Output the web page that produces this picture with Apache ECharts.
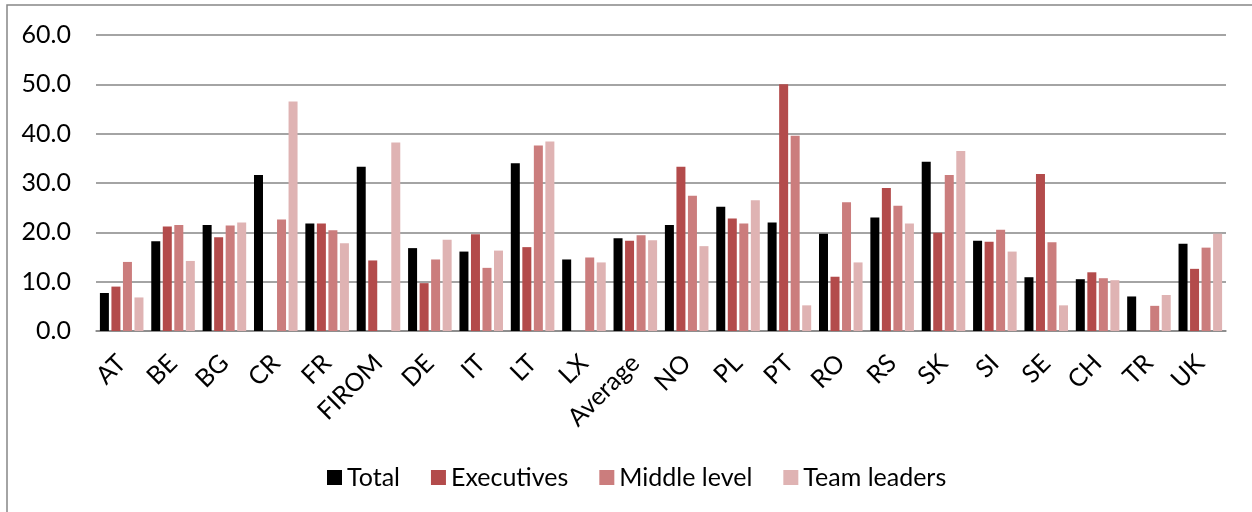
<!DOCTYPE html>
<html>
<head>
<meta charset="utf-8">
<script src="https://cdn.jsdelivr.net/npm/echarts@6/dist/echarts.min.js"></script>
<style>
  html, body { margin: 0; padding: 0; background: #fff; }
  #chart { width: 1252px; height: 512px; }
</style>
</head>
<body>
<div id="chart"></div>
<script>
const countries = ['AT', 'BE', 'BG', 'CR', 'FR', 'FIROM', 'DE', 'IT', 'LT', 'LX', 'Average',
  'NO', 'PL', 'PT', 'RO', 'RS', 'SK', 'SI', 'SE', 'CH', 'TR', 'UK']
const total      = [7.7, 18.2, 21.5, 31.6, 21.8, 33.3, 16.8, 16.1, 34.0, 14.5, 18.8, 21.5, 25.2, 22.0, 19.7, 23.0, 34.3, 18.3, 10.9, 10.5, 7.0, 17.7]
const executives = [9.0, 21.2, 19.0, null, 21.8, 14.3, 9.7, 19.6, 17.0, null, 18.3, 33.3, 22.8, 50.0, 11.0, 29.0, 19.9, 18.1, 31.8, 11.9, null, 12.6]
const middle     = [14.0, 21.5, 21.4, 22.6, 20.4, null, 14.5, 12.8, 37.6, 14.9, 19.4, 27.4, 21.8, 39.6, 26.1, 25.4, 31.6, 20.5, 18.0, 10.7, 5.1, 16.9]
const team       = [6.8, 14.2, 22.0, 46.5, 17.8, 38.2, 18.5, 16.3, 38.4, 13.9, 18.4, 17.2, 26.5, 5.2, 13.9, 21.8, 36.5, 16.1, 5.2, 10.3, 7.3, 19.7]
const yTicks = [0, 10, 20, 30, 40, 50, 60]

const font = 'Lato'
const seriesDefs = [
  { name: 'Total', data: total, color: '#000000' },
  { name: 'Executives', data: executives, color: '#b34b4b' },
  { name: 'Middle level', data: middle, color: '#cb7d7d' },
  { name: 'Team leaders', data: team, color: '#dfb3b3' }
]

const chart = echarts.init(document.getElementById('chart'))
chart.setOption({
  animation: false,
  textStyle: { fontFamily: font },
  graphic: [{
    type: 'rect',
    shape: { x: 7, y: 5, width: 1300, height: 600 },
    style: { fill: 'none', stroke: '#868686', lineWidth: 1.5 },
    silent: true
  }],
  grid: { left: 96, right: 26, top: 35, bottom: 181 },
  legend: {
    top: 460,
    left: 322,
    itemWidth: 15,
    itemHeight: 15,
    itemGap: 31,
    icon: 'rect',
    textStyle: { fontSize: 25, color: '#000', fontFamily: font }
  },
  xAxis: {
    type: 'category',
    data: countries,
    axisLine: { lineStyle: { color: '#868686', width: 1.5 } },
    axisTick: { show: false },
    axisLabel: { interval: 0, rotate: 45, margin: 28, fontSize: 25, color: '#000', fontFamily: font }
  },
  yAxis: {
    type: 'value',
    min: yTicks[0],
    max: yTicks[yTicks.length - 1],
    interval: 10,
    axisLine: { show: false },
    axisTick: { show: false },
    splitLine: { lineStyle: { color: '#868686', width: 1.5 } },
    axisLabel: { margin: 25, fontSize: 25, color: '#000', fontFamily: font, formatter: v => v.toFixed(1) }
  },
  series: seriesDefs.map(s => ({
    name: s.name,
    type: 'bar',
    data: s.data,
    barWidth: 9,
    barGap: '28%',
    itemStyle: { color: s.color }
  }))
})
</script>
</body>
</html>
